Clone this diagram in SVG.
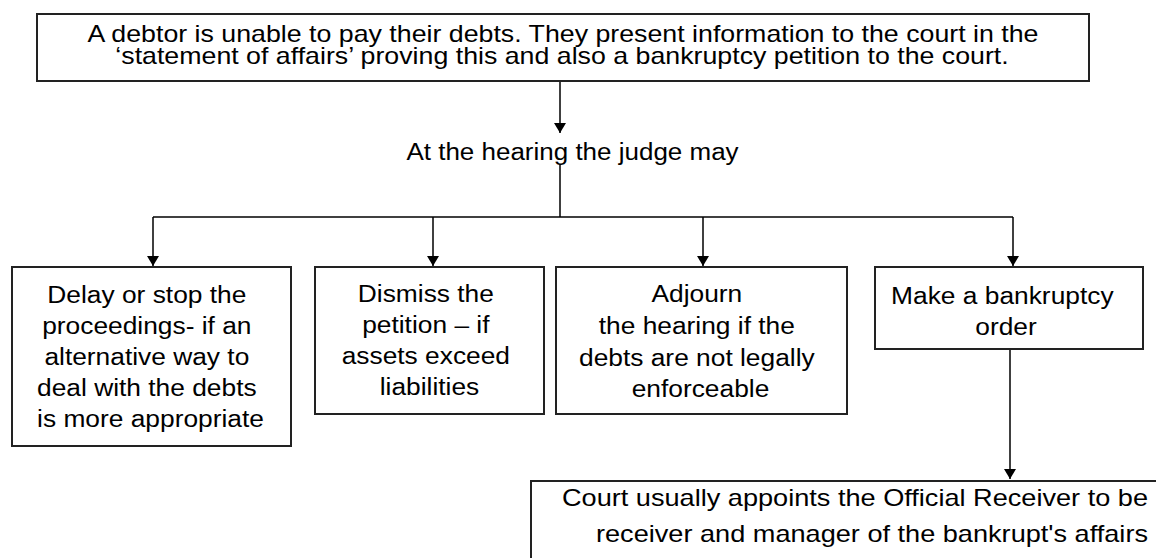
<svg xmlns="http://www.w3.org/2000/svg" width="1156" height="558" viewBox="0 0 1156 558">
  <style>
    .box { fill: #fff; stroke: #222; stroke-width: 2; }
    .wire { fill: none; stroke: #000; stroke-width: 1.5; }
    .lbl { font-family: "Liberation Sans", Arial, sans-serif; font-size: 23px; fill: #000; text-anchor: middle; }
    .end { text-anchor: end; }
  </style>
  <defs>
    <marker id="arrow" viewBox="0 0 10 12" refX="10" refY="6" markerWidth="10" markerHeight="12" markerUnits="userSpaceOnUse" orient="auto">
      <path d="M0,0 L10,6 L0,12 Z" fill="#000"/>
    </marker>
  </defs>
  <rect width="1156" height="558" fill="#fff"/>

  <!-- connectors -->
  <g id="connectors">
    <line class="wire" x1="560" y1="81" x2="560" y2="133" marker-end="url(#arrow)"/>
    <line class="wire" x1="560" y1="165" x2="560" y2="217"/>
    <line class="wire" x1="153" y1="217" x2="1013" y2="217"/>
    <line class="wire" x1="153" y1="217" x2="153" y2="266" marker-end="url(#arrow)"/>
    <line class="wire" x1="433" y1="217" x2="433" y2="266" marker-end="url(#arrow)"/>
    <line class="wire" x1="703" y1="217" x2="703" y2="266" marker-end="url(#arrow)"/>
    <line class="wire" x1="1013" y1="217" x2="1013" y2="266" marker-end="url(#arrow)"/>
    <line class="wire" x1="1010" y1="349" x2="1010" y2="479" marker-end="url(#arrow)"/>
  </g>

  <!-- debtor statement -->
  <g id="start">
    <rect class="box" x="37" y="14" width="1052" height="67"/>
    <text class="lbl" transform="translate(563 41.5) scale(1.163 1)">A debtor is unable to pay their debts. They present information to the court in the</text>
    <text class="lbl" transform="translate(562 63.5) scale(1.163 1)">‘statement of affairs’ proving this and also a bankruptcy petition to the court.</text>
  </g>

  <!-- hearing -->
  <g id="hearing">
    <text class="lbl" transform="translate(572.5 160) scale(1.13 1)">At the hearing the judge may</text>
  </g>

  <!-- option: delay -->
  <g id="delay">
    <rect class="box" x="12" y="267" width="279" height="179"/>
    <text class="lbl" transform="translate(150.5 303) scale(1.145 1)">
      <tspan x="0" y="0">Delay or stop the</tspan>
      <tspan x="0" y="31">proceedings- if an</tspan>
      <tspan x="0" y="62">alternative way to</tspan>
      <tspan x="0" y="93">deal with the debts</tspan>
      <tspan x="0" y="124">is more appropriate</tspan>
    </text>
  </g>

  <!-- option: dismiss -->
  <g id="dismiss">
    <rect class="box" x="315" y="267" width="229" height="147"/>
    <text class="lbl" transform="translate(429.5 302) scale(1.145 1)">
      <tspan x="0" y="0">Dismiss the</tspan>
      <tspan x="0" y="31">petition – if</tspan>
      <tspan x="0" y="62">assets exceed</tspan>
      <tspan x="0" y="93">liabilities</tspan>
    </text>
  </g>

  <!-- option: adjourn -->
  <g id="adjourn">
    <rect class="box" x="556" y="267" width="291" height="147"/>
    <text class="lbl" transform="translate(700.5 302) scale(1.145 1)">
      <tspan x="0" y="0">Adjourn</tspan>
      <tspan x="0" y="32">the hearing if the</tspan>
      <tspan x="0" y="64">debts are not legally</tspan>
      <tspan x="0" y="95">enforceable</tspan>
    </text>
  </g>

  <!-- option: bankruptcy order -->
  <g id="order">
    <rect class="box" x="875" y="267" width="268" height="82"/>
    <text class="lbl" transform="translate(1006 304) scale(1.145 1)">
      <tspan x="0" y="0">Make a bankruptcy</tspan>
      <tspan x="0" y="31">order</tspan>
    </text>
  </g>

  <!-- official receiver -->
  <g id="receiver">
    <path class="box" d="M1160,481 H531 V562" style="fill:none"/>
    <text class="lbl end" transform="translate(1148 505.5) scale(1.18 1)">Court usually appoints the Official Receiver to be</text>
    <text class="lbl end" transform="translate(1148 541.5) scale(1.18 1)">receiver and manager of the bankrupt's affairs</text>
  </g>
</svg>
